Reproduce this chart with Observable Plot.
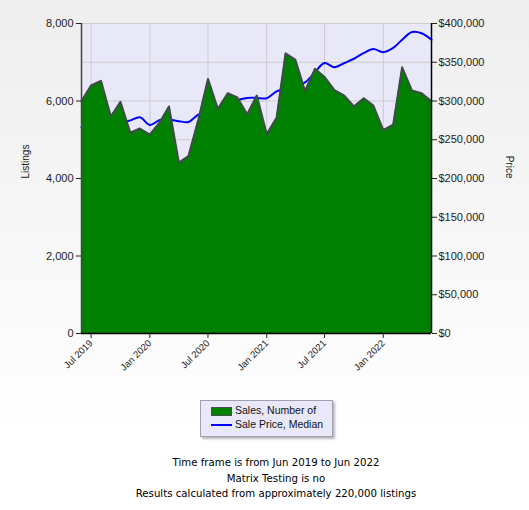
<!DOCTYPE html>
<html>
<head>
<meta charset="utf-8">
<script src="https://cdn.jsdelivr.net/npm/d3@7"></script>
<script src="https://cdn.jsdelivr.net/npm/@observablehq/plot@0.6"></script>
<style>
  html, body { margin: 0; padding: 0; }
  body { width: 529px; height: 510px; background: linear-gradient(#eeeeee, #ffffff 85%); font-family: "Liberation Sans", Arial, sans-serif; }
  #wrap { position: relative; width: 529px; height: 510px; }
  #chart { position: absolute; left: 0; top: 0; }
  #legend { position: absolute; left: 200px; top: 400px; width: 131px; height: 35px; background: #e8e8f8; border: 1px solid #a0a0b0; box-shadow: 2px 2px 2px #b8b8b8; font-size: 10.5px; color: #111; }
  .lg { position: absolute; left: 34px; white-space: nowrap; }
  #sw1 { position: absolute; left: 10px; top: 6px; width: 19px; height: 7px; background: #008000; border: 1px solid #445050; }
  #sw2 { position: absolute; left: 10px; top: 23px; width: 21px; height: 2px; background: #0000ff; }
  #caption { position: absolute; left: 0; top: 455px; width: 552px; text-align: center; font-family: "DejaVu Sans", sans-serif; font-size: 10.2px; line-height: 15.5px; color: #000; }
</style>
</head>
<body>
<div id="wrap">
  <div id="chart"></div>
  <div id="legend">
    <div id="sw1"></div><div class="lg" style="top:3px">Sales, Number of</div>
    <div id="sw2"></div><div class="lg" style="top:17px">Sale Price, Median</div>
  </div>
  <div id="caption">
    <div>Time frame is from Jun 2019 to Jun 2022</div>
    <div>Matrix Testing is no</div>
    <div>Results calculated from approximately 220,000 listings</div>
  </div>
</div>
<script>
const months = [
  "2019-06","2019-07","2019-08","2019-09","2019-10","2019-11","2019-12",
  "2020-01","2020-02","2020-03","2020-04","2020-05","2020-06","2020-07","2020-08","2020-09","2020-10","2020-11","2020-12",
  "2021-01","2021-02","2021-03","2021-04","2021-05","2021-06","2021-07","2021-08","2021-09","2021-10","2021-11","2021-12",
  "2022-01","2022-02","2022-03","2022-04","2022-05","2022-06"
];
const listings = [
  6000, 6400, 6520, 5600, 5980, 5180, 5290,
  5135, 5450, 5860, 4410, 4580, 5520, 6570, 5800, 6200, 6090, 5660, 6140,
  5150, 5570, 7230, 7060, 6260, 6830, 6620, 6280, 6140, 5860, 6070, 5880,
  5250, 5390, 6870, 6270, 6200, 5990
];
const prices = [
  266000, 270000, 273000, 272000, 272000, 275000, 279000,
  269000, 275500, 276000, 274000, 273000, 282500, 287000, 291000, 296000, 301000, 304000, 304000,
  303500, 312500, 316000, 319000, 324000, 337000, 349000, 343500, 349000, 354500, 362000, 367000,
  363000, 368500, 379000, 389000, 387500, 379000
];
const xTickMonths = ["2019-07","2020-01","2020-07","2021-01","2021-07","2022-01"];
const leftTicks = [0, 2000, 4000, 6000, 8000];
const priceTicks = [0, 50000, 100000, 150000, 200000, 250000, 300000, 350000, 400000];

const parse = d3.utcParse("%Y-%m");
const ratio = 400000 / 8000; // price units per listing unit on the shared y scale
const data = months.map((m, i) => ({date: parse(m), listings: listings[i], price: prices[i] / ratio}));
const xTicks = xTickMonths.map(parse);
const gridVals = priceTicks.map(p => p / ratio);
const fmtPrice = d => "$" + d3.format(",")(d * ratio);

const chart = Plot.plot({
  width: 529,
  height: 390,
  marginLeft: 81,
  marginRight: 98,
  marginTop: 23,
  marginBottom: 57,
  style: {background: "transparent", fontFamily: "Liberation Sans, Arial, sans-serif", fontSize: "11px", color: "#222"},
  x: {type: "utc", domain: [parse(months[0]), parse(months[months.length - 1])]},
  y: {domain: [0, 8000]},
  marks: [
    Plot.frame({fill: "#e8e8f8", stroke: null}),
    Plot.gridY(gridVals, {stroke: "#cccccc", strokeOpacity: 1, strokeWidth: 1}),
    Plot.gridX(xTicks, {stroke: "#cccccc", strokeOpacity: 1, strokeWidth: 1}),
    Plot.line(data, {x: "date", y: "price", stroke: "#0000ff", strokeWidth: 2, curve: "catmull-rom"}),
    Plot.areaY(data, {x: "date", y: "listings", fill: "#008000"}),
    Plot.line(data, {x: "date", y: "listings", stroke: "#404a4a", strokeWidth: 2}),
    Plot.ruleX([parse(months[0])], {stroke: "#444", strokeWidth: 1.5}),
    Plot.ruleX([parse(months[months.length - 1])], {stroke: "#000", strokeWidth: 1.5}),
    Plot.ruleY([0], {stroke: "#000", strokeWidth: 1.5}),
    Plot.axisY(leftTicks, {anchor: "left", tickFormat: d3.format(","), tickSize: 5, tickPadding: 3, label: null, fontSize: 11}),
    Plot.axisY(gridVals, {anchor: "right", tickFormat: fmtPrice, tickSize: 5, tickPadding: 2, label: null, fontSize: 11}),
    Plot.axisX(xTicks, {anchor: "bottom", tickFormat: d3.utcFormat("%b %Y"), tickRotate: -45, tickSize: 5, tickPadding: 3, label: null, fontSize: 9.5}),
    Plot.text(["Listings"], {frameAnchor: "left", dx: -56, rotate: -90, fontSize: 10, fill: "#222"}),
    Plot.text(["Price"], {frameAnchor: "right", dx: 78, rotate: 90, fontSize: 10, fill: "#222"})
  ]
});
document.getElementById("chart").appendChild(chart);
</script>
</body>
</html>
